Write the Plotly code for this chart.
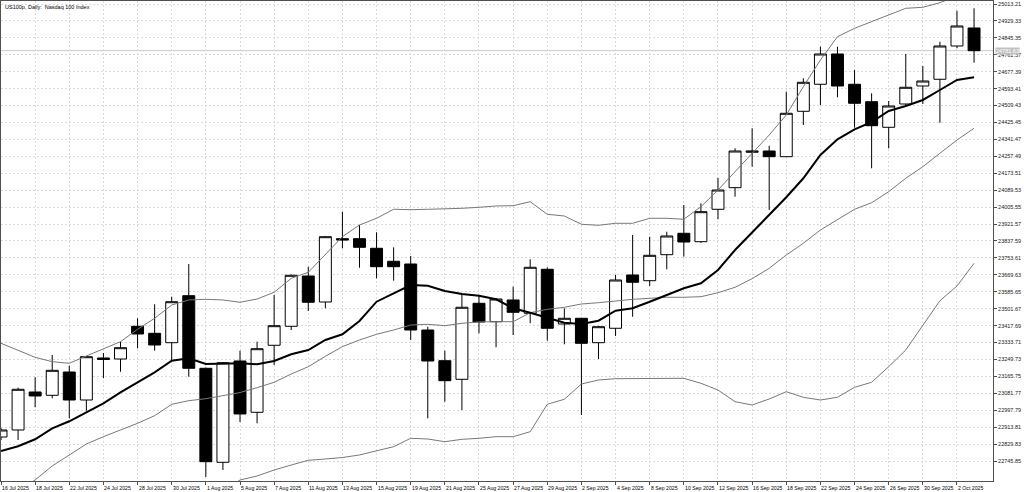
import plotly.graph_objects as go

# daily bars, US100p
dates = ['2025-07-16', '2025-07-17', '2025-07-18', '2025-07-21', '2025-07-22', '2025-07-23',
         '2025-07-24', '2025-07-25', '2025-07-28', '2025-07-29', '2025-07-30', '2025-07-31',
         '2025-08-01', '2025-08-04', '2025-08-05', '2025-08-06', '2025-08-07', '2025-08-08',
         '2025-08-11', '2025-08-12', '2025-08-13', '2025-08-14', '2025-08-15', '2025-08-18',
         '2025-08-19', '2025-08-20', '2025-08-21', '2025-08-22', '2025-08-25', '2025-08-26',
         '2025-08-27', '2025-08-28', '2025-08-29', '2025-09-01', '2025-09-02', '2025-09-03',
         '2025-09-04', '2025-09-05', '2025-09-08', '2025-09-09', '2025-09-10', '2025-09-11',
         '2025-09-12', '2025-09-15', '2025-09-16', '2025-09-17', '2025-09-18', '2025-09-19',
         '2025-09-22', '2025-09-23', '2025-09-24', '2025-09-25', '2025-09-26', '2025-09-29',
         '2025-09-30', '2025-10-01', '2025-10-02', '2025-10-03']

opens = [22864.9, 22899.7, 23088.2, 23071.8, 23187.4, 23048.5, 23249.4, 23251.9, 23414.2, 23379.4,
         23332.8, 23566.0, 23205.8, 22739.4, 23242.0, 22987.5, 23319.9, 23414.2, 23663.7, 23534.7,
         23848.8, 23848.8, 23801.2, 23736.7, 23723.3, 23395.8, 23243.5, 23151.2, 23528.3, 23437.0,
         23544.7, 23478.7, 23697.0, 23425.6, 23453.9, 23332.8, 23404.3, 23668.7, 23640.4, 23769.4,
         23875.6, 23833.9, 23994.7, 24101.8, 24277.5, 24283.9, 24255.6, 24480.9, 24614.9, 24765.2,
         24614.9, 24528.5, 24401.5, 24517.1, 24606.4, 24639.7, 24804.9, 24894.2]
highs = [22909.6, 23109.5, 23161.1, 23271.8, 23218.7, 23266.8, 23281.7, 23337.8, 23453.9, 23523.3,
         23561.0, 23723.3, 23209.8, 23237.1, 23293.1, 23337.8, 23569.5, 23671.2, 23709.9, 23862.2,
         23982.8, 23916.8, 23880.6, 23806.1, 23763.0, 23412.2, 23293.1, 23569.5, 23569.5, 23554.6,
         23610.7, 23746.6, 23706.9, 23503.5, 23455.4, 23415.7, 23668.7, 23867.2, 23858.7, 23883.5,
         24016.0, 24024.4, 24150.0, 24297.3, 24396.6, 24310.2, 24578.1, 24644.6, 24801.4, 24801.4,
         24685.8, 24570.2, 24532.0, 24765.2, 24705.6, 24826.2, 24980.0, 24991.9]
lows = [22850.0, 22850.0, 23012.3, 23056.9, 22957.7, 22995.4, 23157.6, 23188.9, 23305.0, 23293.1,
        23247.0, 23164.1, 22666.5, 22701.2, 22939.4, 22932.9, 23222.2, 23395.8, 23490.1, 23503.5,
        23801.2, 23704.9, 23652.3, 23640.4, 23346.2, 22957.7, 23040.1, 22998.9, 23379.4, 23310.0,
        23371.0, 23429.1, 23342.7, 23324.9, 22974.1, 23251.9, 23366.1, 23461.8, 23614.1, 23697.0,
        23759.5, 23828.0, 23945.1, 24057.2, 24206.0, 23991.2, 24254.2, 24412.9, 24512.1, 24550.3,
        24399.5, 24198.1, 24297.3, 24512.0, 24517.1, 24424.3, 24793.5, 24722.0]
closes = [22899.7, 23101.6, 23068.4, 23195.8, 23048.5, 23263.3, 23256.9, 23308.0, 23376.0, 23321.4,
          23536.2, 23205.8, 22742.4, 23233.6, 22979.1, 23303.0, 23417.2, 23667.2, 23533.3, 23858.7,
          23842.4, 23806.1, 23709.9, 23709.9, 23395.8, 23242.0, 23144.3, 23508.5, 23435.5, 23549.6,
          23483.6, 23706.9, 23404.3, 23453.9, 23329.8, 23412.2, 23643.9, 23632.5, 23766.4, 23862.2,
          23832.4, 23982.8, 24090.4, 24283.9, 24283.9, 24255.6, 24471.0, 24624.8, 24765.2, 24606.4,
          24520.6, 24409.4, 24507.2, 24600.0, 24631.2, 24804.9, 24904.1, 24781.63]

# indicator lines
band_upper = [23329.8, 23296.6, 23260.4, 23238.5, 23230.6, 23266.8, 23301.5, 23337.8, 23399.3, 23453.9,
              23519.8, 23544.7, 23548.1, 23544.7, 23533.3, 23549.6, 23582.8, 23652.3, 23682.1, 23771.4,
              23858.7, 23916.8, 23950.0, 23994.7, 23992.7, 23994.7, 23996.2, 23999.6, 24004.6, 24011.1,
              24012.5, 24032.4, 23969.9, 23961.4, 23920.3, 23915.3, 23925.2, 23925.2, 23950.0, 23950.0,
              23945.1, 24007.6, 24090.4, 24181.2, 24272.5, 24363.3, 24462.5, 24602.9, 24735.4, 24851.0,
              24892.7, 24925.4, 24958.6, 24991.9, 24996.9, 25019.7, 25052.9, 25077.7]
band_middle = [22552.4, 22602.0, 22651.6, 22721.1, 22775.7, 22830.2, 22866.5, 22899.7, 22932.9, 22970.6,
               23027.2, 23045.1, 23055.0, 23069.9, 23085.7, 23109.5, 23136.4, 23177.5, 23213.7, 23265.3,
               23313.0, 23346.2, 23374.5, 23395.8, 23420.6, 23424.1, 23417.2, 23429.1, 23435.5, 23437.0,
               23437.0, 23481.7, 23498.5, 23508.5, 23524.8, 23531.3, 23541.2, 23548.1, 23553.1, 23558.1,
               23558.1, 23561.0, 23580.9, 23607.7, 23650.4, 23701.9, 23767.9, 23826.0, 23892.0, 23945.1,
               23994.7, 24027.4, 24082.0, 24148.5, 24206.0, 24272.5, 24338.5, 24396.6]
band_lower = [21775, 21907, 22043, 22204, 22321, 22394, 22432, 22462, 22467, 22487,
              22535, 22546, 22562, 22595, 22651.6, 22671.4, 22701.2, 22726.0, 22749.3, 22755.8,
              22763.2, 22775.7, 22795.5, 22816.8, 22858.5, 22855.0, 22841.6, 22853.5, 22858.5, 22866.5,
              22866.5, 22891.2, 23027.2, 23052.0, 23127.9, 23147.7, 23154.2, 23154.2, 23154.2, 23154.2,
              23156.2, 23131.4, 23098.1, 23040.1, 23023.7, 23053.5, 23089.7, 23061.9, 23048.5, 23061.9,
              23111.5, 23136.4, 23213.7, 23296.6, 23417.2, 23541.2, 23614.1, 23726.7]
ma_fast = [22795.5, 22818.8, 22853.5, 22908.1, 22942.8, 22987.5, 23032.1, 23086.7, 23137.8, 23185.9,
           23243.5, 23255.4, 23227.1, 23227.1, 23230.6, 23225.7, 23242.0, 23275.3, 23296.6, 23346.2,
           23374.5, 23440.5, 23536.2, 23577.9, 23619.1, 23615.6, 23589.3, 23574.4, 23566.0, 23548.1,
           23503.5, 23481.7, 23456.9, 23432.1, 23425.6, 23442.0, 23491.6, 23503.5, 23536.2, 23569.5,
           23602.7, 23627.5, 23693.5, 23792.7, 23880.6, 23966.4, 24054.2, 24148.5, 24264.1, 24342.0,
           24391.6, 24427.8, 24482.4, 24507.2, 24537.0, 24586.6, 24636.2, 24649.6]

date_labels = ['16 Jul 2025', '18 Jul 2025', '22 Jul 2025', '24 Jul 2025', '28 Jul 2025', '30 Jul 2025',
               '1 Aug 2025', '5 Aug 2025', '7 Aug 2025', '11 Aug 2025', '13 Aug 2025', '15 Aug 2025',
               '19 Aug 2025', '21 Aug 2025', '25 Aug 2025', '27 Aug 2025', '29 Aug 2025', '2 Sep 2025',
               '4 Sep 2025', '8 Sep 2025', '10 Sep 2025', '12 Sep 2025', '16 Sep 2025', '18 Sep 2025',
               '22 Sep 2025', '24 Sep 2025', '26 Sep 2025', '30 Sep 2025', '2 Oct 2025']
price_ticks = [22745.85, 22829.83, 22913.81, 22997.79, 23081.77, 23165.75, 23249.73, 23333.71,
               23417.69, 23501.67, 23585.65, 23669.63, 23753.61, 23837.59, 23921.57, 24005.55,
               24089.53, 24173.51, 24257.49, 24341.47, 24425.45, 24509.43, 24593.41, 24677.39,
               24761.37, 24845.35, 24929.33, 25013.21]

FONT = 'Liberation Sans'
GRID = '#dadada'
AXIS = '#505050'

fig = go.Figure()

fig.add_trace(go.Candlestick(
    x=dates, open=opens, high=highs, low=lows, close=closes,
    increasing=dict(line=dict(color='black', width=1), fillcolor='white'),
    decreasing=dict(line=dict(color='black', width=1), fillcolor='black'),
    whiskerwidth=0, showlegend=False, hoverinfo='skip'))

for vals in (band_upper, band_middle, band_lower):
    fig.add_trace(go.Scatter(x=dates, y=vals, mode='lines', showlegend=False,
                             line=dict(color='#787878', width=1), hoverinfo='skip'))
fig.add_trace(go.Scatter(x=dates, y=ma_fast, mode='lines', showlegend=False,
                         line=dict(color='black', width=2), hoverinfo='skip'))

# bid line and its price tag
last = closes[-1]
fig.add_shape(type='line', xref='paper', x0=0, x1=1, yref='y', y0=last, y1=last,
              line=dict(color='#c8c8c8', width=1), layer='below')
fig.add_annotation(xref='paper', x=1, xanchor='left', xshift=2, y=last, yref='y',
                   text=f'{last:.2f}', showarrow=False, bgcolor='#c0c0c0', borderpad=0,
                   font=dict(family=FONT, size=5.5, color='white'))

fig.add_annotation(xref='paper', x=0, xanchor='left', xshift=2, yref='paper', y=1,
                   yanchor='top', yshift=-1, showarrow=False,
                   text='US100p, Daily:&nbsp; Nasdaq 100 Index',
                   font=dict(family=FONT, size=5.5, color='black'))

tick_dates = dates[::2]
for d, lab in zip(tick_dates, date_labels):
    fig.add_annotation(x=d, xref='x', xanchor='left', xshift=-1, y=0, yref='paper',
                       yanchor='top', yshift=-2, text=lab, showarrow=False,
                       font=dict(family=FONT, size=5.2, color='black'))

fig.update_layout(
    width=1024, height=492,
    margin=dict(l=1, r=31, t=1, b=11, autoexpand=False),
    paper_bgcolor='white', plot_bgcolor='white',
    boxgap=0.3, boxgroupgap=0,
    showlegend=False,
    font=dict(family=FONT, size=5.5, color='black'),
    xaxis=dict(type='category', range=[0, 58.11], rangeslider=dict(visible=False),
               tickvals=tick_dates, showticklabels=False, ticks='outside', ticklen=3,
               tickcolor=AXIS, showgrid=True, gridcolor=GRID, griddash='2px,2px', gridwidth=1,
               showline=True, linecolor=AXIS, linewidth=1, mirror=True, zeroline=False),
    yaxis=dict(side='right', range=[22646.6, 25028.1], tickvals=price_ticks,
               ticktext=[f'{v:.2f}' for v in price_ticks], ticks='outside', ticklen=3,
               tickcolor=AXIS, tickfont=dict(family=FONT, size=5.5, color='#202020'),
               showgrid=True, gridcolor=GRID, griddash='2px,2px', gridwidth=1,
               showline=True, linecolor=AXIS, linewidth=1, mirror=True, zeroline=False),
)

fig.write_html('out.html', config={'displayModeBar': False},
               post_script="document.body.style.margin='0';")
